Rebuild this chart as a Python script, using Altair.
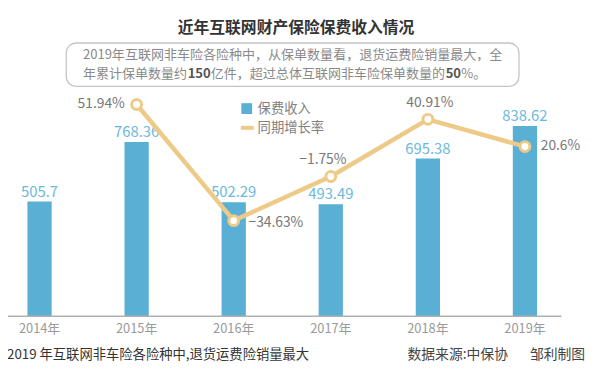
import altair as alt
import pandas as pd

years = ["2014年", "2015年", "2016年", "2017年", "2018年", "2019年"]
premium = [505.7, 768.36, 502.29, 493.49, 695.38, 838.62]
premium_text = ["505.7", "768.36", "502.29", "493.49", "695.38", "838.62"]
growth = [None, 51.94, -34.63, -1.75, 40.91, 20.6]
growth_text = ["", "51.94%", "−34.63%", "−1.75%", "40.91%", "20.6%"]

title_text = "近年互联网财产保险保费收入情况"
note_line1 = "2019年互联网非车险各险种中，从保单数量看，退货运费险销量最大，全"
note_line2 = [("年累计保单数量约", False), ("150", True),
              ("亿件，超过总体互联网非车险保单数量的", False), ("50", True), ("%。", False)]
legend_labels = ["保费收入", "同期增长率"]
footer_left = "2019 年互联网非车险各险种中,退货运费险销量最大"
footer_source = "数据来源:中保协"
footer_author = "邹利制图"

FONT = "Noto Sans CJK SC"
BAR = "#5aafd4"
BAR_LABEL = "#6cb9db"
LINE = "#edca88"
W, H = 556, 310

df = pd.DataFrame({"year": years, "premium": premium, "ptext": premium_text,
                   "growth": growth, "gtext": growth_text})

xaxis = alt.Axis(domain=False, ticks=False, tickSize=0, labelPadding=6,
                 labelFontSize=13, labelColor="#9a9a9a", labelFont=FONT,
                 labelAngle=0, grid=False)
xenc = alt.X("year:N", sort=years, title=None,
             scale=alt.Scale(paddingInner=0.75, paddingOuter=0.2), axis=xaxis)

ybar = alt.Y("premium:Q", scale=alt.Scale(domain=[0, 1348], nice=False), axis=None)
yg = alt.Y("growth:Q", scale=alt.Scale(domain=[-105.9, 122.06], nice=False, zero=False), axis=None)

base = alt.Chart(df)

bars = base.mark_bar(color=BAR).encode(x=xenc, y=ybar)
bar_labels = base.mark_text(color=BAR_LABEL, fontSize=15, font=FONT, baseline="alphabetic",
                            dy=-5).encode(x=xenc, y=ybar, text="ptext:N")

gbase = base.transform_filter("datum.growth != null")
line = gbase.mark_line(color=LINE, strokeWidth=4.5).encode(x=xenc, y=yg)
pts = gbase.mark_circle(fill="white", stroke=LINE, strokeWidth=3, size=100,
                        opacity=1).encode(x=xenc, y=yg)

label_style = {
    "2015年": dict(align="right", dx=-12, dy=0),
    "2016年": dict(align="left", dx=15, dy=2),
    "2017年": dict(align="center", dx=-8, dy=-17),
    "2018年": dict(align="center", dx=2, dy=-16),
    "2019年": dict(align="left", dx=16, dy=0),
}
glabels = []
for yr, st in label_style.items():
    glabels.append(
        base.transform_filter(alt.datum.year == yr).mark_text(
            color="#777777", fontSize=14, font=FONT, baseline="middle", **st
        ).encode(x=xenc, y=yg, text="gtext:N")
    )

one = lambda **kw: alt.Chart(pd.DataFrame([kw]))

baseline_rule = one(a=1).mark_rule(color="#b0b0b0", strokeWidth=1.5).encode(
    x=alt.value(-4), x2=alt.value(561), y=alt.value(H))

title = one(t=title_text).mark_text(fontSize=16, fontWeight="bold", font=FONT, color="#333333",
                                    align="center", baseline="middle").encode(
    x=alt.value(292), y=alt.value(18), text="t:N")

box = one(a=1).mark_rect(fill="white", stroke="#c4c4c4", strokeWidth=1.3, cornerRadius=10).encode(
    x=alt.value(59), x2=alt.value(518), y=alt.value(33), y2=alt.value(77))

NFS = 13.2
line1 = one(t=note_line1).mark_text(fontSize=NFS, font=FONT, color="#8a8a8a", align="left",
                                    baseline="middle").encode(
    x=alt.value(76), y=alt.value(45.5), text="t:N")


def est_width(s, bold):
    w = 0.0
    for ch in s:
        if ch.isdigit():
            w += (0.58 if bold else 0.55) * NFS
        elif ch == "%":
            w += 0.85 * NFS
        elif ch == ".":
            w += 0.27 * NFS
        else:
            w += NFS
    return w


segs = []
cx = 76.0
for s, b in note_line2:
    segs.append(one(t=s).mark_text(fontSize=NFS, font=FONT,
                                   color="#555555" if b else "#8a8a8a",
                                   fontWeight="bold" if b else "normal",
                                   align="left", baseline="middle").encode(
        x=alt.value(cx), y=alt.value(64), text="t:N"))
    cx += est_width(s, b) + 0.5

leg_sq = one(a=1).mark_square(color=BAR, size=120, opacity=1).encode(
    x=alt.value(242), y=alt.value(99.5))
leg_ln = one(a=1).mark_rule(color=LINE, strokeWidth=4).encode(
    x=alt.value(236), x2=alt.value(249), y=alt.value(119))
leg_t1 = one(t=legend_labels[0]).mark_text(fontSize=13.5, font=FONT, color="#808080",
                                           align="left", baseline="middle").encode(
    x=alt.value(253), y=alt.value(100), text="t:N")
leg_t2 = one(t=legend_labels[1]).mark_text(fontSize=13.5, font=FONT, color="#808080",
                                           align="left", baseline="middle").encode(
    x=alt.value(253), y=alt.value(119), text="t:N")

foot1 = one(t=footer_left).mark_text(fontSize=13.5, font=FONT, color="#333333", align="left",
                                     baseline="middle").encode(
    x=alt.value(-1), y=alt.value(349), text="t:N")
foot2 = one(t=footer_source).mark_text(fontSize=14, font=FONT, color="#444444", align="left",
                                       baseline="middle").encode(
    x=alt.value(405), y=alt.value(349), text="t:N")
foot3 = one(t=footer_author).mark_text(fontSize=14, font=FONT, color="#444444", align="right",
                                       baseline="middle").encode(
    x=alt.value(585), y=alt.value(349), text="t:N")

chart = alt.layer(
    box, title, line1, *segs,
    bars, baseline_rule, bar_labels, line, pts, *glabels,
    leg_sq, leg_ln, leg_t1, leg_t2, foot1, foot2, foot3,
).resolve_scale(y="independent").properties(
    width=W, height=H,
    autosize=alt.AutoSizeParams(type="none"),
    padding={"left": 0, "top": 0, "right": 36, "bottom": 50},
).configure(font=FONT).configure_view(stroke=None, strokeWidth=0)

chart.save("out.html", embed_options={"renderer": "svg", "actions": False})
